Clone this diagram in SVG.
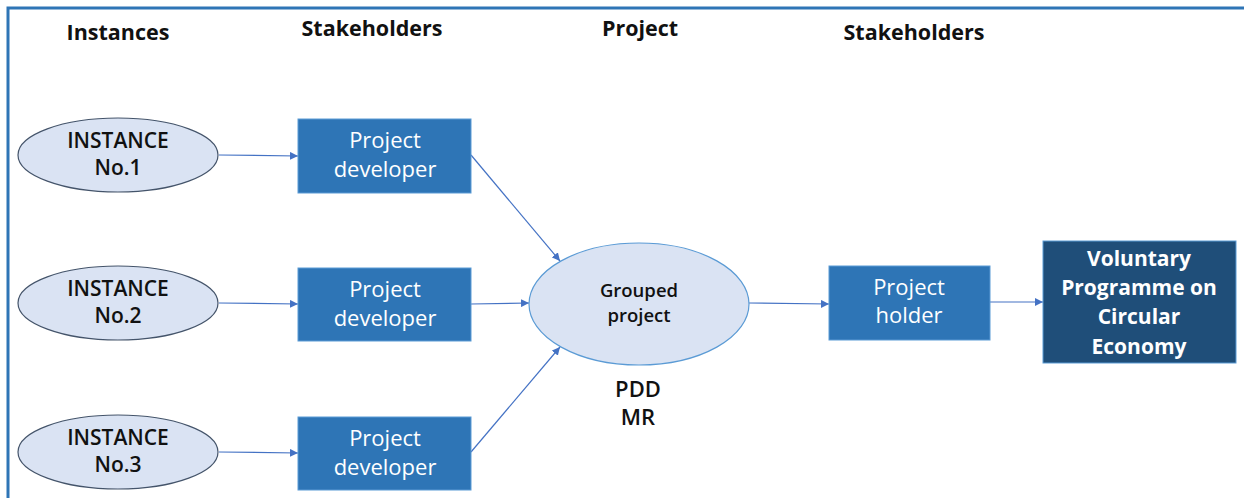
<svg xmlns="http://www.w3.org/2000/svg" width="1244" height="498" viewBox="0 0 1244 498">
<defs>
<style>
.hdr{font-family:"Open Sans","Lato",sans-serif;font-weight:700;font-size:21.5px;fill:#111;text-anchor:middle}
.inst{font-family:"Open Sans","Lato",sans-serif;font-weight:600;font-size:21px;fill:#111;text-anchor:middle}
.inst-e{fill:#DAE3F3;stroke:#44546A;stroke-width:1.2}
.box{fill:#2E75B6;stroke:#5B9BD5;stroke-width:1}
.btxt{font-family:"Open Sans","Lato",sans-serif;font-size:22px;fill:#fff;text-anchor:middle}
.vtxt{font-family:"Open Sans","Lato",sans-serif;font-weight:700;font-size:21px;fill:#fff;text-anchor:middle}
.conn{stroke:#4472C4;stroke-width:1.2;fill:none;marker-end:url(#ah)}
</style>
<marker id="ah" viewBox="0 0 10 10" refX="10" refY="5" markerWidth="8" markerHeight="8" markerUnits="userSpaceOnUse" orient="auto">
<path d="M0,0 L10,5 L0,10 z" fill="#4472C4"/>
</marker>
</defs>
<rect width="1244" height="498" fill="#fff"/>
<path d="M8,498 V8 H1244" fill="none" stroke="#2E75B6" stroke-width="3"/>
<g id="headers">
<text class="hdr" x="118" y="40">Instances</text>
<text class="hdr" x="372" y="36">Stakeholders</text>
<text class="hdr" x="640" y="36">Project</text>
<text class="hdr" x="914" y="40">Stakeholders</text>
</g>
<g id="connectors">
<line class="conn" x1="219" y1="155" x2="298" y2="156"/>
<line class="conn" x1="219" y1="303" x2="298" y2="304"/>
<line class="conn" x1="219" y1="452" x2="298" y2="453"/>
<line class="conn" x1="471" y1="155" x2="560" y2="261"/>
<line class="conn" x1="471" y1="304" x2="529" y2="303"/>
<line class="conn" x1="471" y1="452" x2="560" y2="347"/>
<line class="conn" x1="749" y1="303" x2="829" y2="304"/>
<line class="conn" x1="990" y1="302" x2="1043" y2="302"/>
</g>
<g id="instance1">
<ellipse class="inst-e" cx="118" cy="155" rx="100" ry="37"/>
<text class="inst" x="118" y="148">INSTANCE</text>
<text class="inst" x="118" y="175">No.1</text>
</g>
<g id="instance2">
<ellipse class="inst-e" cx="118" cy="303" rx="100" ry="37"/>
<text class="inst" x="118" y="296">INSTANCE</text>
<text class="inst" x="118" y="323">No.2</text>
</g>
<g id="instance3">
<ellipse class="inst-e" cx="118" cy="452" rx="100" ry="37"/>
<text class="inst" x="118" y="445">INSTANCE</text>
<text class="inst" x="118" y="472">No.3</text>
</g>
<g id="developer1">
<rect class="box" x="298" y="119" width="173" height="74"/>
<text class="btxt" x="385" y="148">Project</text>
<text class="btxt" x="385" y="177">developer</text>
</g>
<g id="developer2">
<rect class="box" x="298" y="268" width="173" height="73"/>
<text class="btxt" x="385" y="297">Project</text>
<text class="btxt" x="385" y="326">developer</text>
</g>
<g id="developer3">
<rect class="box" x="298" y="417" width="173" height="73"/>
<text class="btxt" x="385" y="446">Project</text>
<text class="btxt" x="385" y="475">developer</text>
</g>
<g id="grouped">
<ellipse cx="639" cy="304" rx="110" ry="61" fill="#DAE3F3" stroke="#5B9BD5" stroke-width="1.2"/>
<text class="inst" x="639" y="297" style="font-size:18.5px">Grouped</text>
<text class="inst" x="639" y="322" style="font-size:18.5px">project</text>
<text class="inst" x="638" y="397" style="font-size:22px">PDD</text>
<text class="inst" x="638" y="425" style="font-size:22px">MR</text>
</g>
<g id="holder">
<rect class="box" x="829" y="266" width="161" height="74"/>
<text class="btxt" x="909" y="295">Project</text>
<text class="btxt" x="909" y="323">holder</text>
</g>
<g id="programme">
<rect x="1043" y="241" width="193" height="122" fill="#1F4E79" stroke="#5B9BD5" stroke-width="1"/>
<text class="vtxt" x="1139" y="266">Voluntary</text>
<text class="vtxt" x="1139" y="295">Programme on</text>
<text class="vtxt" x="1139" y="324">Circular</text>
<text class="vtxt" x="1139" y="354">Economy</text>
</g>
</svg>
